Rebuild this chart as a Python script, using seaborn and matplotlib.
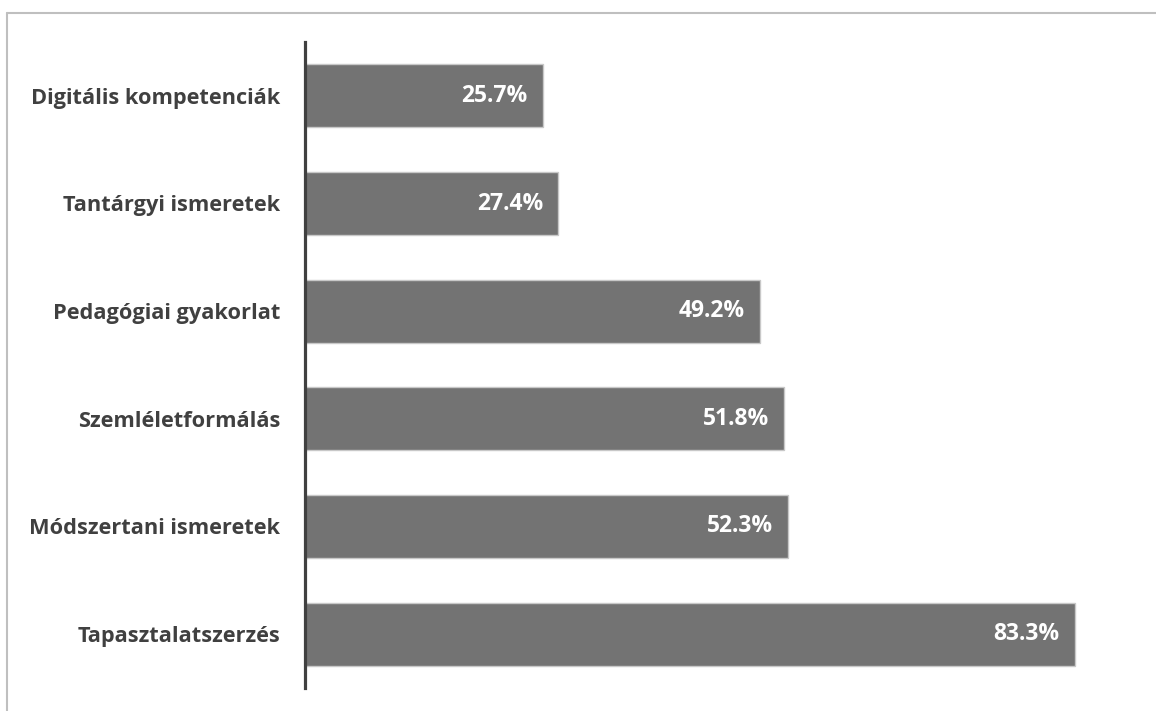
import matplotlib
matplotlib.use("Agg")
import matplotlib.pyplot as plt
import seaborn as sns
import pandas as pd
from matplotlib.lines import Line2D

# data
categories = ["Digitális kompetenciák", "Tantárgyi ismeretek", "Pedagógiai gyakorlat",
              "Szemléletformálás", "Módszertani ismeretek", "Tapasztalatszerzés"]
values = [25.7, 27.4, 49.2, 51.8, 52.3, 83.3]

df = pd.DataFrame({"cat": categories, "val": values})

sns.set_style("white")
plt.rcParams["font.family"] = ["Open Sans", "DejaVu Sans"]

fig = plt.figure(figsize=(11.56, 7.11), dpi=100)
ax = fig.add_axes([305 / 1156, 23 / 711, 841 / 1156, 646 / 711])

sns.barplot(data=df, x="val", y="cat", color="#737373", saturation=1,
            width=0.585, edgecolor="#c8c8c8", linewidth=1, ax=ax)

ax.set_xlim(0, 91)
ax.set_ylim(5.5, -0.5)
ax.set_xlabel("")
ax.set_ylabel("")
ax.set_xticks([])
for s in ["top", "right", "bottom"]:
    ax.spines[s].set_visible(False)
ax.spines["left"].set_color("#404040")
ax.spines["left"].set_linewidth(2.3)
ax.tick_params(axis="y", length=0, pad=18)
for t in ax.get_yticklabels():
    t.set_fontsize(15.7)
    t.set_fontweight("bold")
    t.set_color("#404040")

# value labels inside bars
for i, v in enumerate(values):
    ax.annotate(f"{v:.1f}%", xy=(v, i), xytext=(-15, 0), textcoords="offset pixels",
                ha="right", va="center", color="white", fontsize=16.5, fontweight="bold")

# outer frame (top and left only visible)
fig.add_artist(Line2D([7 / 1156, 1], [1 - 13 / 711, 1 - 13 / 711],
                      transform=fig.transFigure, color="#bfbfbf", lw=1.5))
fig.add_artist(Line2D([7 / 1156, 7 / 1156], [0, 1 - 13 / 711],
                      transform=fig.transFigure, color="#bfbfbf", lw=1.5))

fig.savefig("out.png", dpi=100)
